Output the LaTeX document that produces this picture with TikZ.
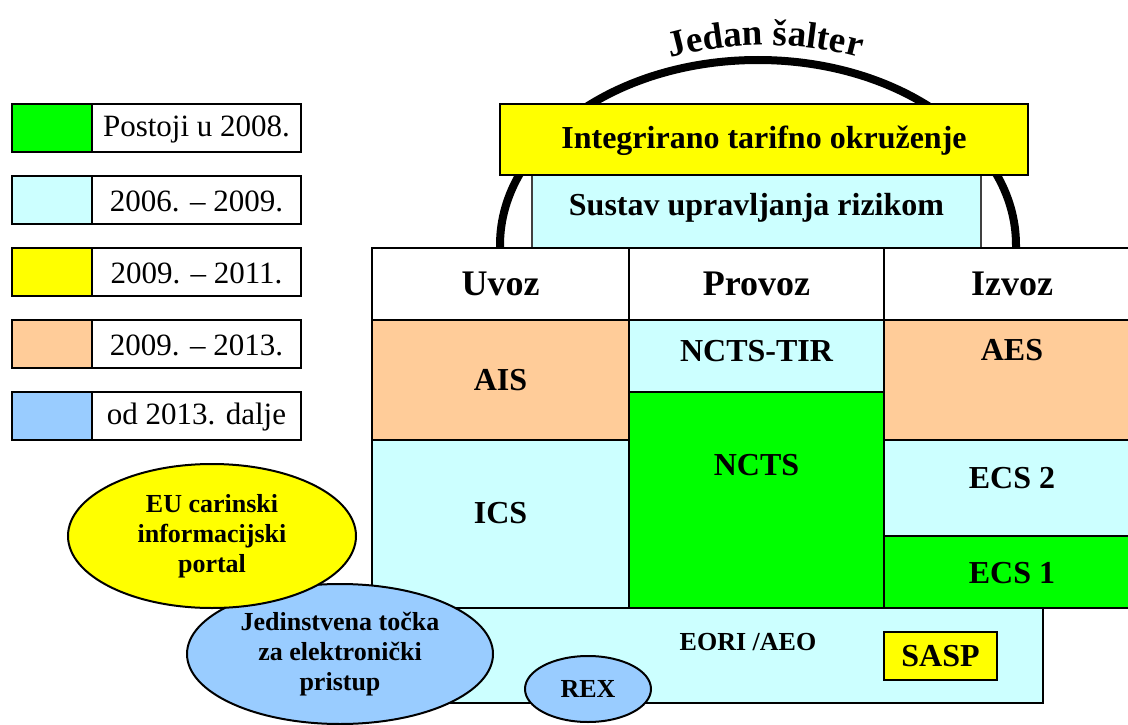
\documentclass[tikz,border=0pt]{standalone}
\usepackage{fontspec}
\setmainfont{Liberation Serif}
\usetikzlibrary{shapes.geometric,decorations.text}
\definecolor{cgreen}{HTML}{00FF00}
\definecolor{ccyan}{HTML}{CCFFFF}
\definecolor{cyellow}{HTML}{FFFF00}
\definecolor{corange}{HTML}{FFCC99}
\definecolor{cblue}{HTML}{99CCFF}
\newcommand\fbig{\bfseries\fontsize{36}{40}\selectfont}
\newcommand\fmid{\bfseries\fontsize{32}{36}\selectfont}
\newcommand\fsmall{\bfseries\fontsize{26}{30}\selectfont}
\newcommand\flegend{\fontsize{31}{34}\selectfont}
\newcommand\mybox[6]{\node[#6, anchor=north west, minimum width={(#4-#2)*1pt}, minimum height={(#5-#3)*1pt}] (#1) at (#2,-#3) {};}
\tikzset{
  cell/.style={draw=black, line width=2pt, inner sep=0pt, outer sep=0pt},
  thinbox/.style={draw=black!75, line width=1.2pt, inner sep=0pt, outer sep=0pt},
  lbl/.style={inner sep=0pt, align=center},
  oval/.style={ellipse, draw=black, line width=2pt, inner sep=0pt, align=center},
}
\begin{document}
\begin{tikzpicture}[x=1pt,y=1pt]
\clip (0,0) rectangle (1128,-725);
\fill[white] (0,0) rectangle (1128,-725);
% arch
\draw[line width=8pt] (500,-252) -- (500,-245) arc[start angle=180, end angle=0, x radius=258, y radius=185] -- (1016,-252);
\path[decorate, decoration={text along path, text={|\bfseries\fontsize{37}{40}\selectfont|Jedan šalter}, text align=center}]
  (765,-400) ++(110:355) arc[start angle=110, end angle=70, radius=355];
% top boxes
\mybox{sur}{532}{175}{981}{248}{thinbox, fill=ccyan}
\node[lbl, font=\fmid] (tsur) at (756.5,-208) {Sustav upravljanja rizikom};
\mybox{ito}{500}{104}{1028}{175}{cell, line width=1.5pt, fill=cyellow}
\node[lbl, font=\fmid] (tito) at (764,-141) {Integrirano tarifno okruženje};
% table
\mybox{huv}{372}{248}{629}{320}{cell, fill=white}
\mybox{hpr}{629}{248}{884}{320}{cell, fill=white}
\mybox{hiz}{884}{248}{1140}{320}{cell, fill=white}
\node[lbl, font=\fbig] (tuv) at (500.5,-284) {Uvoz};
\node[lbl, font=\fbig] (tpr) at (756.5,-284) {Provoz};
\node[lbl, font=\fbig] (tiz) at (1012,-284) {Izvoz};
\mybox{ais}{372}{320}{629}{440}{cell, fill=corange}
\mybox{ics}{372}{440}{629}{608}{cell, fill=ccyan}
\mybox{tir}{629}{320}{884}{392}{cell, fill=ccyan}
\mybox{ncts}{629}{392}{884}{608}{cell, fill=cgreen}
\mybox{aes}{884}{320}{1140}{440}{cell, fill=corange}
\mybox{ecs2}{884}{440}{1140}{536}{cell, fill=ccyan}
\mybox{ecs1}{884}{536}{1140}{608}{cell, fill=cgreen}
\node[lbl, font=\fmid] (tais) at (500.5,-380) {AIS};
\node[lbl, font=\fmid] (tics) at (500.5,-513) {ICS};
\node[lbl, font=\fmid] (ttir) at (756.5,-351) {NCTS-TIR};
\node[lbl, font=\fmid] (tncts) at (756.5,-465) {NCTS};
\node[lbl, font=\fmid] (taes) at (1012,-350) {AES};
\node[lbl, font=\fmid] (tecs2) at (1012,-478) {ECS 2};
\node[lbl, font=\fmid] (tecs1) at (1012,-573) {ECS 1};
% bottom band
\mybox{eori}{440}{608}{1043}{703}{cell, fill=ccyan}
\node[lbl, font=\fsmall] (teori) at (748,-642) {EORI /AEO};
\mybox{sasp}{884}{632}{997}{680}{cell, fill=cyellow}
\node[lbl, font=\fmid] (tsasp) at (940.5,-656) {SASP};
% ovals
\node[oval, fill=cblue, minimum width=126pt, minimum height=66pt, font=\fsmall] (rex) at (588,-689) {REX};
\node[oval, fill=cblue, minimum width=306pt, minimum height=140pt, font=\fsmall] (jtp) at (340,-654)
  {\fontsize{26}{31}\selectfont Jedinstvena točka\\za elektronički\\pristup};
\node[oval, fill=cyellow, minimum width=288pt, minimum height=144pt, font=\fsmall] (eu) at (212,-536)
  {EU carinski\\informacijski\\portal};
% legend
\foreach \i/\y/\c/\t in {1/104/cgreen/Postoji u 2008., 2/176/ccyan/2006. -- 2009., 3/248/cyellow/2009. -- 2011., 4/320/corange/2009. -- 2013., 5/392/cblue/od 2013. dalje}{
  \mybox{legc\i}{12}{\y}{92}{\y+48}{cell, line width=1.5pt, fill=\c}
  \mybox{legb\i}{92}{\y}{301}{\y+48}{cell, line width=1.5pt, fill=white}
  \node[lbl, font=\flegend] (legt\i) at (196.5,{-(\y+25)}) {\t};
}
\end{tikzpicture}
\end{document}
